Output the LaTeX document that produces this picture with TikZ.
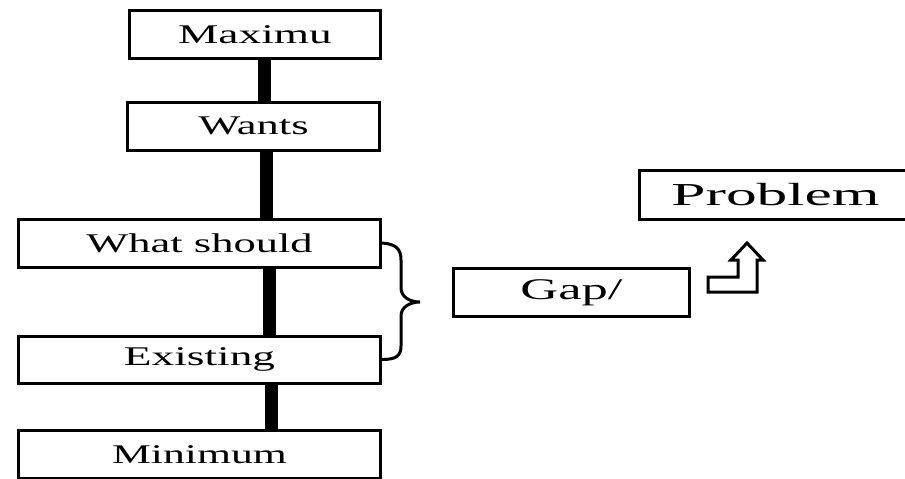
\documentclass[tikz,border=0pt]{standalone}
\usepackage{fontspec}
\setmainfont{Liberation Serif}
\newcommand\lbl{\fontsize{27}{30}\selectfont}
% wide-set lettering: glyphs stretched horizontally
\newcommand\wide[2][1.65]{\scalebox{#1}[1]{#2}}
\begin{document}
\begin{tikzpicture}[x=1pt,y=-1pt,
  box/.style={draw, line width=3pt, inner sep=0pt, minimum height=48pt, font=\lbl},
  link/.style={line width=13pt},
  brc/.style={line width=3pt, line cap=round},
  bentarrow/.style={line width=3pt, line join=miter}]
\useasboundingbox (0,0) rectangle (905,479);
\clip (0,0) rectangle (905,479);

% ladder of levels
\node[box, minimum width=251pt] (max)   at (255,34.5)    {\wide[1.68]{Maximu}};
\node[box, minimum width=252pt] (wants) at (253.5,126)   {\wide{Wants}};
\node[box, minimum width=362pt] (what)  at (199.5,243)   {\wide{What should}};
\node[box, minimum width=362pt, minimum height=47pt] (exist) at (199.5,359.5) {\wide[1.68]{Existing}};
\node[box, minimum width=362pt] (min)   at (199.5,454.5) {\wide[1.62]{Minimum}};

% side boxes
\node[box, minimum width=236pt] (gap)  at (571.5,292.5) {\fontsize{30}{33}\selectfont\wide[1.75]{Gap/}};
\node[box, minimum width=272pt, minimum height=49pt] (prob) at (775.5,195) {\fontsize{32}{35}\selectfont\wide[1.92]{Problem}};

% thick links between levels
\path ([xshift=9pt]max.south) coordinate (l1)
      ([xshift=12.5pt]wants.south) coordinate (l2)
      ([xshift=69.5pt]what.south) coordinate (l3)
      ([xshift=71.5pt]exist.south) coordinate (l4);
\draw[link] (l1) -- (l1 |- wants.north);
\draw[link] (l2) -- (l2 |- what.north);
\draw[link] (l3) -- (l3 |- exist.north);
\draw[link] (l4) -- (l4 |- min.north);

% brace grouping the two middle levels
\draw[brc] (what.east) .. controls (396,244) and (401,249) .. (401,260)
  -- (401,288) .. controls (401,297) and (410,302) .. (420,302)
  .. controls (410,302) and (401,307) .. (401,316)
  -- (401,346) .. controls (401,356) and (396,359.5) .. (exist.east);

% bent-up outline arrow
\draw[bentarrow] (708,292) -- (708,277) -- (738,277) -- (738,260) -- (731,260)
  -- (747,243) -- (763,260) -- (757,260) -- (757,292) -- cycle;
\end{tikzpicture}
\end{document}
